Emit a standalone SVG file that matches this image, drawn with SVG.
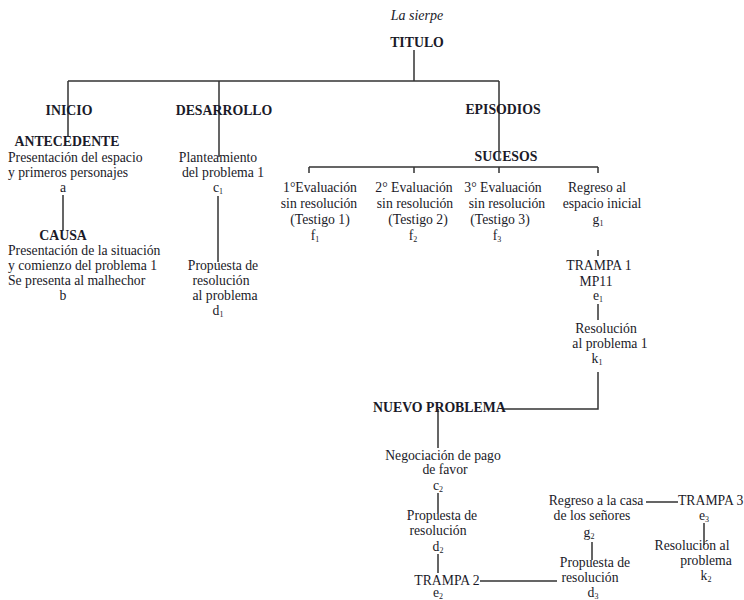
<svg xmlns="http://www.w3.org/2000/svg" width="744" height="600" viewBox="0 0 744 600">
<style>
text{font-family:"Liberation Serif","Times New Roman",serif;font-size:13.7px;fill:#1a1a28;text-anchor:middle}
.b{font-weight:bold;font-size:13.8px}
.i{font-style:italic;font-size:14px}
.l{text-anchor:start}
.s{font-size:8px}
#connectors path{stroke:#333;stroke-width:1.5;fill:none}
</style>
<rect width="744" height="600" fill="#fff"/>
<g id="connectors">
<path d="M414,50V81M68,81H499M68,81V137M219,81V157M499,81V160"/>
<path d="M63,195V230M218,196V262"/>
<path d="M309,167H598M309,167V173M414,167V173M499,167V173M598,167V173"/>
<path d="M598,250V256M598,304V320M598,372V409H503"/>
<path d="M438,409V448M438,493V513M438,554V573M480,581H557M592,542V560M646,502H678M704,523V545"/>
</g>
<g id="title"><text x="417" y="20" class="i">La sierpe</text><text x="417" y="47" class="b">TITULO</text></g>
<g id="inicio"><text x="69" y="115" class="b">INICIO</text></g>
<g id="desarrollo"><text x="224" y="115" class="b">DESARROLLO</text></g>
<g id="episodios"><text x="503" y="114" class="b">EPISODIOS</text></g>
<g id="sucesos"><text x="506" y="161" class="b">SUCESOS</text></g>
<g id="antecedente">
<text x="67" y="146" class="b">ANTECEDENTE</text>
<text x="8" y="162" class="l">Presentación del espacio</text>
<text x="8" y="177" class="l">y primeros personajes</text>
<text x="63" y="192">a</text>
</g>
<g id="causa">
<text x="63" y="240" class="b">CAUSA</text>
<text x="8" y="255" class="l">Presentación de la situación</text>
<text x="8" y="270" class="l">y comienzo del problema 1</text>
<text x="8" y="285" class="l">Se presenta al malhechor</text>
<text x="63" y="300">b</text>
</g>
<g id="planteamiento">
<text x="218" y="162">Planteamiento</text>
<text x="223" y="177">del problema 1</text>
<text x="218" y="192">c<tspan class="s" dy="2">1</tspan></text>
</g>
<g id="propuesta1">
<text x="223" y="270">Propuesta de</text>
<text x="221" y="285">resolución</text>
<text x="225" y="300">al problema</text>
<text x="218" y="315">d<tspan class="s" dy="2">1</tspan></text>
</g>
<g id="eval1">
<text x="320" y="192">1°Evaluación</text>
<text x="319" y="208">sin resolución</text>
<text x="320" y="224">(Testigo 1)</text>
<text x="315" y="240">f<tspan class="s" dy="2">1</tspan></text>
</g>
<g id="eval2">
<text x="414" y="192">2° Evaluación</text>
<text x="415" y="208">sin resolución</text>
<text x="418" y="224">(Testigo 2)</text>
<text x="413" y="240">f<tspan class="s" dy="2">2</tspan></text>
</g>
<g id="eval3">
<text x="503" y="192">3° Evaluación</text>
<text x="507" y="208">sin resolución</text>
<text x="500" y="224">(Testigo 3)</text>
<text x="497" y="240">f<tspan class="s" dy="2">3</tspan></text>
</g>
<g id="regreso1">
<text x="597" y="192">Regreso al</text>
<text x="602" y="208">espacio inicial</text>
<text x="598" y="224">g<tspan class="s" dy="2">1</tspan></text>
</g>
<g id="trampa1">
<text x="599" y="270">TRAMPA 1</text>
<text x="596" y="286">MP11</text>
<text x="598" y="300">e<tspan class="s" dy="2">1</tspan></text>
</g>
<g id="resolucion1">
<text x="606" y="333">Resolución</text>
<text x="610" y="348">al problema 1</text>
<text x="597" y="363">k<tspan class="s" dy="2">1</tspan></text>
</g>
<g id="nuevo"><text x="373" y="412" class="b l">NUEVO PROBLEMA</text></g>
<g id="negociacion">
<text x="443" y="460">Negociación de pago</text>
<text x="445" y="474">de favor</text>
<text x="438" y="490">c<tspan class="s" dy="2">2</tspan></text>
</g>
<g id="propuesta2">
<text x="442" y="520">Propuesta de</text>
<text x="438" y="535">resolución</text>
<text x="438" y="551">d<tspan class="s" dy="2">2</tspan></text>
</g>
<g id="trampa2">
<text x="447" y="585">TRAMPA 2</text>
<text x="438" y="597">e<tspan class="s" dy="2">2</tspan></text>
</g>
<g id="propuesta3">
<text x="595" y="567">Propuesta de</text>
<text x="590" y="582">resolución</text>
<text x="593" y="597">d<tspan class="s" dy="2">3</tspan></text>
</g>
<g id="regreso2">
<text x="596" y="505">Regreso a la casa</text>
<text x="592" y="520">de los señores</text>
<text x="589" y="537">g<tspan class="s" dy="2">2</tspan></text>
</g>
<g id="trampa3">
<text x="678" y="505" class="l">TRAMPA 3</text>
<text x="704" y="520">e<tspan class="s" dy="2">3</tspan></text>
</g>
<g id="resolucion2">
<text x="692" y="550">Resolución al</text>
<text x="706" y="565">problema</text>
<text x="706" y="580">k<tspan class="s" dy="2">2</tspan></text>
</g>
</svg>
